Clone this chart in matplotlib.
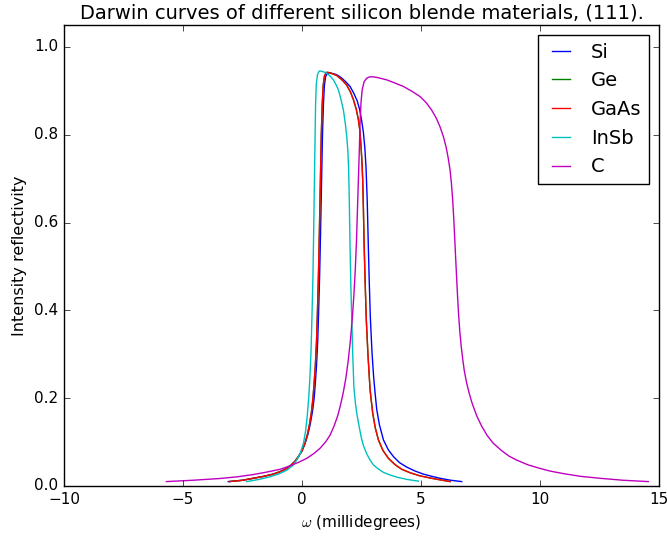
import matplotlib
matplotlib.use("Agg")
import matplotlib.pyplot as plt

plt.style.use("classic")

# omega (millidegrees) and intensity reflectivity sampled along each curve
si_w = [-3.10, -2.50, -2.05, -1.60, -1.21, -0.90, -0.64, -0.45, -0.30, -0.15,
        0.00, 0.13, 0.25, 0.35, 0.44, 0.51, 0.56, 0.61, 0.66, 0.70, 0.74, 0.78,
        0.82, 0.86, 0.90, 0.94, 0.99, 1.05, 1.12, 1.25, 1.45, 1.65, 1.85, 2.02,
        2.18, 2.32, 2.42, 2.50, 2.58, 2.64, 2.69, 2.74, 2.78, 2.82, 2.87, 2.94,
        3.01, 3.07, 3.14, 3.25, 3.42, 3.62, 3.84, 4.10, 4.40, 4.75, 5.10, 5.45,
        5.80, 6.25, 6.71]
si_r = [0.010, 0.013, 0.0175, 0.022, 0.027, 0.033, 0.040, 0.048, 0.056, 0.067,
        0.080, 0.097, 0.118, 0.142, 0.170, 0.200, 0.235, 0.275, 0.330, 0.400, 0.480, 0.580,
        0.690, 0.800, 0.870, 0.912, 0.932, 0.939, 0.941, 0.940, 0.937, 0.930, 0.920, 0.910,
        0.894, 0.877, 0.858, 0.834, 0.805, 0.770, 0.725, 0.650, 0.560, 0.475, 0.385, 0.305,
        0.248, 0.212, 0.174, 0.140, 0.105, 0.083, 0.067, 0.053, 0.043, 0.034, 0.027, 0.022,
        0.0175, 0.013, 0.010]

ge_w = [-3.05, -2.50, -2.05, -1.60, -1.21, -0.90, -0.64, -0.45, -0.30, -0.15,
        0.00, 0.12, 0.23, 0.32, 0.40, 0.46, 0.51, 0.56, 0.61, 0.65, 0.69, 0.73,
        0.77, 0.81, 0.85, 0.89, 0.94, 1.01, 1.10, 1.28, 1.46, 1.68, 1.88, 2.03,
        2.16, 2.28, 2.37, 2.44, 2.48, 2.52, 2.55, 2.58, 2.61, 2.65, 2.70, 2.77,
        2.86, 2.97, 3.08, 3.21, 3.40, 3.63, 3.90, 4.19, 4.55, 4.96, 5.40, 5.80,
        6.22]
ge_r = [0.010, 0.013, 0.0175, 0.022, 0.027, 0.033, 0.040, 0.048, 0.056, 0.067,
        0.080, 0.097, 0.118, 0.142, 0.170, 0.200, 0.235, 0.275, 0.330, 0.400, 0.480, 0.580,
        0.690, 0.800, 0.870, 0.912, 0.933, 0.942, 0.942, 0.939, 0.935, 0.925, 0.913, 0.898,
        0.880, 0.858, 0.834, 0.805, 0.773, 0.737, 0.697, 0.630, 0.550, 0.469, 0.380, 0.300,
        0.219, 0.166, 0.132, 0.105, 0.081, 0.063, 0.049, 0.038, 0.030, 0.023, 0.018, 0.014,
        0.010]

gaas_w = [-3.05, -2.50, -2.05, -1.60, -1.21, -0.90, -0.64, -0.45, -0.30, -0.15,
          0.00, 0.12, 0.23, 0.32, 0.40, 0.46, 0.51, 0.56, 0.61, 0.65, 0.69, 0.73,
          0.77, 0.81, 0.85, 0.89, 0.94, 1.01, 1.10, 1.28, 1.46, 1.68, 1.88, 2.03,
          2.16, 2.28, 2.37, 2.44, 2.48, 2.52, 2.55, 2.58, 2.61, 2.65, 2.70, 2.77,
          2.86, 2.97, 3.08, 3.21, 3.40, 3.63, 3.90, 4.19, 4.55, 4.96, 5.40, 5.80,
          6.22]
gaas_r = [0.010, 0.013, 0.0175, 0.022, 0.027, 0.033, 0.040, 0.048, 0.056, 0.067,
          0.080, 0.097, 0.118, 0.142, 0.170, 0.200, 0.235, 0.275, 0.330, 0.400, 0.480, 0.580,
          0.690, 0.800, 0.870, 0.912, 0.933, 0.942, 0.942, 0.939, 0.935, 0.925, 0.913, 0.898,
          0.880, 0.858, 0.834, 0.805, 0.773, 0.737, 0.697, 0.630, 0.550, 0.469, 0.380, 0.300,
          0.219, 0.166, 0.132, 0.105, 0.081, 0.063, 0.049, 0.038, 0.030, 0.023, 0.018, 0.014,
          0.010]

insb_w = [-2.32, -1.80, -1.34, -0.95, -0.64, -0.40, -0.22, -0.07, 0.06, 0.15,
          0.22, 0.28, 0.33, 0.38, 0.42, 0.46, 0.49, 0.52, 0.55, 0.57, 0.60, 0.65,
          0.72, 0.80, 0.92, 1.04, 1.18, 1.32, 1.43, 1.53, 1.64, 1.74, 1.82, 1.88,
          1.93, 1.96, 1.99, 2.02, 2.05, 2.09, 2.13, 2.18, 2.24, 2.30, 2.40, 2.50,
          2.58, 2.72, 2.85, 3.00, 3.20, 3.42, 3.70, 4.00, 4.40, 4.89]
insb_r = [0.010, 0.015, 0.021, 0.028, 0.036, 0.046, 0.059, 0.075, 0.097, 0.125,
          0.160, 0.200, 0.245, 0.310, 0.390, 0.480, 0.580, 0.690, 0.800, 0.870, 0.915, 0.937,
          0.945, 0.945, 0.943, 0.940, 0.934, 0.925, 0.914, 0.902, 0.880, 0.856, 0.825, 0.796,
          0.760, 0.720, 0.640, 0.540, 0.460, 0.380, 0.300, 0.225, 0.190, 0.166, 0.135, 0.108,
          0.092, 0.073, 0.060, 0.048, 0.039, 0.031, 0.025, 0.020, 0.015, 0.011]

c_w = [-5.70, -4.60, -3.45, -2.70, -2.05, -1.45, -0.92, -0.50, -0.10, 0.20,
       0.50, 0.76, 1.00, 1.18, 1.35, 1.50, 1.62, 1.73, 1.84, 1.94, 2.03, 2.11,
       2.18, 2.24, 2.29, 2.33, 2.37, 2.41, 2.44, 2.48, 2.53, 2.61, 2.72, 2.85,
       3.00, 3.20, 3.56, 3.90, 4.26, 4.62, 4.96, 5.22, 5.45, 5.64, 5.80, 5.94,
       6.05, 6.14, 6.22, 6.28, 6.33, 6.38, 6.42, 6.46, 6.50, 6.54, 6.58, 6.63,
       6.69, 6.75, 6.82, 6.92, 7.02, 7.15, 7.34, 7.55, 7.78, 8.04, 8.40, 8.70,
       9.02, 9.50, 10.00, 10.42, 11.00, 11.70, 12.52, 13.50, 14.55]
c_r = [0.010, 0.013, 0.017, 0.021, 0.026, 0.032, 0.038, 0.046, 0.055, 0.063,
       0.074, 0.086, 0.101, 0.116, 0.137, 0.160, 0.185, 0.212, 0.245, 0.285, 0.330, 0.380,
       0.435, 0.495, 0.560, 0.630, 0.700, 0.770, 0.830, 0.875, 0.903, 0.921, 0.929, 0.932,
       0.932, 0.930, 0.925, 0.918, 0.910, 0.899, 0.887, 0.873, 0.856, 0.838, 0.818, 0.796,
       0.773, 0.748, 0.720, 0.688, 0.652, 0.605, 0.560, 0.515, 0.470, 0.428, 0.390, 0.352,
       0.318, 0.290, 0.262, 0.234, 0.212, 0.188, 0.160, 0.136, 0.115, 0.097, 0.080, 0.068,
       0.059, 0.048, 0.040, 0.034, 0.028, 0.022, 0.0175, 0.013, 0.010]

series = [("Si", si_w, si_r, "b"),
          ("Ge", ge_w, ge_r, "g"),
          ("GaAs", gaas_w, gaas_r, "r"),
          ("InSb", insb_w, insb_r, "c"),
          ("C", c_w, c_r, "m")]

fig = plt.figure(figsize=(6.67, 5.38), dpi=100, facecolor="white")
ax = fig.add_axes([0.096, 0.0967, 0.892, 0.8568])

for name, w, r, col in series:
    ax.plot(w, r, color=col, linewidth=1.0, label=name)

ax.set_xlim(-10, 15)
ax.set_ylim(0, 1.05)
ax.set_yticks([0.0, 0.2, 0.4, 0.6, 0.8, 1.0])
ax.tick_params(labelsize=11)
ax.set_xlabel(r"$\omega$ (millidegrees)", fontsize=11)
ax.set_ylabel("Intensity reflectivity", fontsize=11.5)
ax.set_title("Darwin curves of different silicon blende materials, (111).", fontsize=14)
ax.legend(loc="upper right", fontsize=14, handlelength=1.5)

fig.savefig("out.png", dpi=100, facecolor="white")
